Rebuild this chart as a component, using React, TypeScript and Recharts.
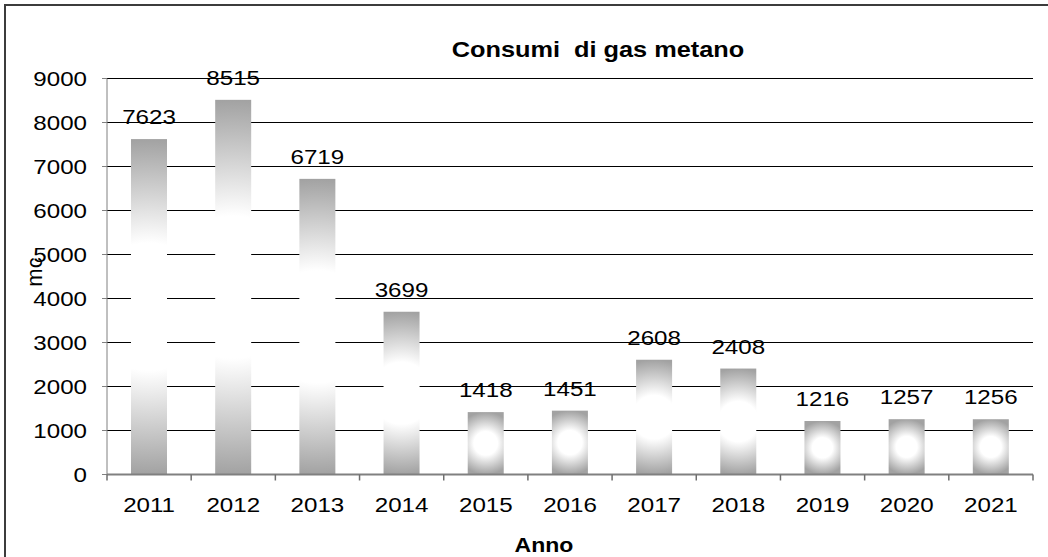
import React from "react";
import { BarChart, Bar, XAxis, YAxis, CartesianGrid, LabelList } from "recharts";

// consumi annui di gas metano (mc)
const anni = ["2011", "2012", "2013", "2014", "2015", "2016", "2017", "2018", "2019", "2020", "2021"];
const consumi = [7623, 8515, 6719, 3699, 1418, 1451, 2608, 2408, 1216, 1257, 1256];
const yTicks = [0, 1000, 2000, 3000, 4000, 5000, 6000, 7000, 8000, 9000];

const data = anni.map((anno, i) => ({ anno, mc: consumi[i] }));

const FONT = "'Liberation Sans', Arial, sans-serif";
const STRETCH = 1.15;
const TICK_MARGIN = 23;
const stretch = (x: number, y: number) =>
  `translate(${x} ${y}) scale(${STRETCH} 1) translate(${-x} ${-y})`;

const GradientBar = (props: any) => {
  const { x, y, width, height, index } = props;
  if (!height || height <= 0) return null;
  const id = `barGrad${index}`;
  return (
    <g>
      <defs>
        <radialGradient
          id={id}
          gradientUnits="userSpaceOnUse"
          cx={x + width / 2}
          cy={y + height / 2}
          r={height / 2}
        >
          <stop offset="0" stopColor="#ffffff" />
          <stop offset="0.38" stopColor="#ffffff" />
          <stop offset="1" stopColor="#a2a2a2" />
        </radialGradient>
      </defs>
      <rect x={x} y={y} width={width} height={height} fill={`url(#${id})`} />
    </g>
  );
};

const YTick = (props: any) => {
  const { x, y, payload } = props;
  return (
    <text x={x} y={y} dy="0.355em" textAnchor="end" fontSize={21} fontFamily={FONT} fill="#000" transform={stretch(x, y)}>
      {payload.value}
    </text>
  );
};

// label plus the tick marks on the category boundaries (Excel style)
const XTick = (props: any) => {
  const { x, y, payload, index, visibleTicksCount, width } = props;
  const half = payload && payload.offset ? payload.offset : width / visibleTicksCount / 2;
  const axisY = y - TICK_MARGIN;
  const last = index === visibleTicksCount - 1;
  return (
    <g>
      <line x1={x - half} x2={x - half} y1={axisY} y2={axisY + 6} stroke="#6e6e6e" strokeWidth={1.5} />
      {last && <line x1={x + half} x2={x + half} y1={axisY} y2={axisY + 6} stroke="#6e6e6e" strokeWidth={1.5} />}
      <text x={x} y={y} dy="0.71em" textAnchor="middle" fontSize={21} fontFamily={FONT} fill="#000" transform={stretch(x, y)}>
        {payload.value}
      </text>
    </g>
  );
};

const ValueLabel = (props: any) => {
  const { x, y, width, value } = props;
  const cx = x + width / 2;
  const by = y - 15;
  return (
    <text x={cx} y={by} textAnchor="middle" fontSize={21} fontFamily={FONT} fill="#000" transform={stretch(cx, by)}>
      {value}
    </text>
  );
};

export default function App() {
  return (
    <div style={{ position: "absolute", left: 0, top: 0, width: 1048, height: 557, background: "#fff", overflow: "hidden", fontFamily: FONT }}>
      <div
        style={{
          position: "absolute",
          left: 4,
          top: 4,
          width: 1100,
          height: 600,
          borderLeft: "2px solid #3c3c3c",
          borderTop: "2px solid #3c3c3c",
        }}
      />
      <BarChart width={1048} height={557} data={data} margin={{ top: 78.5, right: 15, left: 0, bottom: 0 }}>
        <CartesianGrid vertical={false} stroke="#000" />
        <XAxis
          dataKey="anno"
          axisLine={{ stroke: "#808080", strokeWidth: 2 }}
          tickLine={false}
          tickSize={0}
          tickMargin={TICK_MARGIN}
          tick={<XTick />}
          height={82.5}
          interval={0}
        />
        <YAxis
          domain={[0, 9000]}
          ticks={yTicks}
          width={107}
          axisLine={{ stroke: "#808080" }}
          tickLine={{ stroke: "#808080" }}
          tickSize={5}
          tickMargin={15}
          tick={<YTick />}
          interval={0}
        />
        <Bar dataKey="mc" barSize={36} shape={<GradientBar />} isAnimationActive={false}>
          <LabelList dataKey="mc" content={<ValueLabel />} />
        </Bar>
      </BarChart>
      <div
        style={{
          position: "absolute",
          left: 598,
          top: 39,
          fontSize: 22,
          lineHeight: "22px",
          fontWeight: "bold",
          whiteSpace: "pre",
          transform: `translateX(-50%) scaleX(${STRETCH})`,
        }}
      >
        {"Consumi  di gas metano"}
      </div>
      <div
        style={{
          position: "absolute",
          left: 544,
          top: 535,
          fontSize: 20,
          lineHeight: "20px",
          fontWeight: "bold",
          transform: `translateX(-50%) scaleX(${STRETCH})`,
        }}
      >
        Anno
      </div>
      <div
        style={{
          position: "absolute",
          left: 35,
          top: 272,
          fontSize: 22,
          lineHeight: "22px",
          transform: "translate(-50%, -50%) rotate(-90deg)",
        }}
      >
        mc
      </div>
    </div>
  );
}
